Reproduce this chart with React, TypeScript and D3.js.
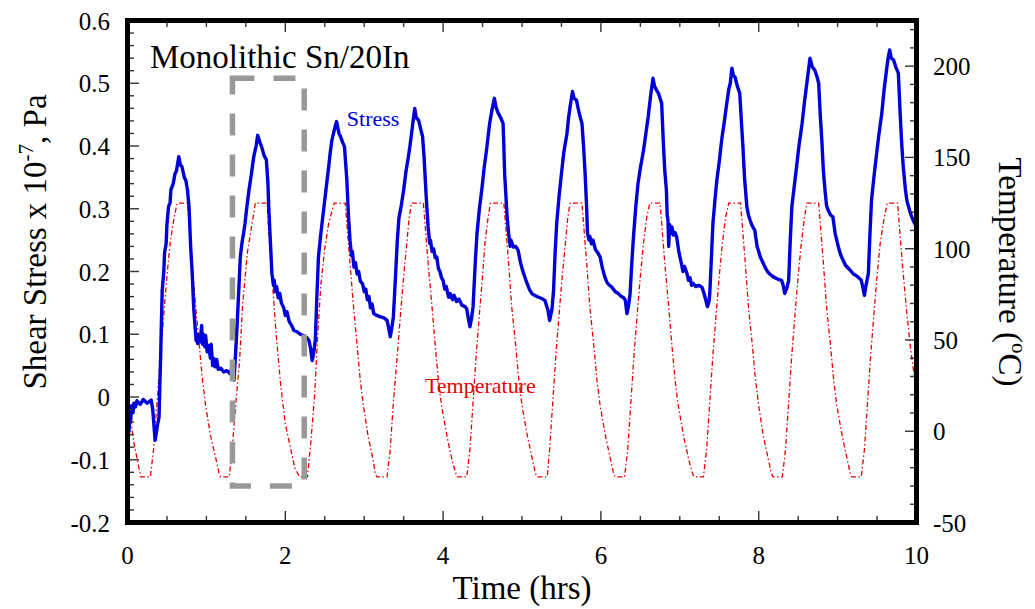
import { useRef, useEffect } from "react";
import * as d3 from "d3";

// tick labels
const stressTicks = [-0.2, -0.1, 0, 0.1, 0.2, 0.3, 0.4, 0.5, 0.6];
const stressTickLabels = ["-0.2", "-0.1", "0", "0.1", "0.2", "0.3", "0.4", "0.5", "0.6"];
const tempTicks = [-50, 0, 50, 100, 150, 200];
const tempTickLabels = ["-50", "0", "50", "100", "150", "200"];
const timeTicks = [0, 2, 4, 6, 8, 10];
const timeTickLabels = ["0", "2", "4", "6", "8", "10"];

const stressData: [number, number][] = [
  [0.0, -0.042], [0.01, -0.07], [0.015, -0.03], [0.02, -0.055], [0.03, -0.02], [0.04, -0.04],
  [0.05, -0.014], [0.07, -0.025], [0.08, -0.01], [0.1, -0.016], [0.12, -0.006], [0.16, -0.012],
  [0.2, -0.004], [0.25, -0.01], [0.3, -0.005], [0.32, -0.02], [0.35, -0.069], [0.38, -0.045],
  [0.4, -0.032], [0.41, 0.02], [0.42, 0.064], [0.43, 0.12], [0.44, 0.17], [0.46, 0.2],
  [0.47, 0.23], [0.49, 0.245], [0.5, 0.275], [0.52, 0.303], [0.54, 0.31], [0.55, 0.33],
  [0.58, 0.34], [0.6, 0.355], [0.62, 0.36], [0.65, 0.383], [0.67, 0.37], [0.69, 0.367],
  [0.72, 0.35], [0.74, 0.345], [0.76, 0.33], [0.78, 0.303], [0.8, 0.24], [0.82, 0.197],
  [0.84, 0.14], [0.86, 0.106], [0.87, 0.09], [0.88, 0.1], [0.89, 0.085], [0.9, 0.098],
  [0.92, 0.088], [0.94, 0.114], [0.95, 0.084], [0.96, 0.1], [0.98, 0.08], [0.99, 0.098],
  [1.01, 0.072], [1.03, 0.082], [1.05, 0.062], [1.06, 0.084], [1.08, 0.05], [1.09, 0.062],
  [1.11, 0.048], [1.13, 0.06], [1.15, 0.044], [1.18, 0.046], [1.22, 0.04], [1.26, 0.042],
  [1.3, 0.037], [1.32, 0.045], [1.34, 0.04], [1.35, 0.027],
  [1.37, 0.07], [1.39, 0.117], [1.41, 0.17], [1.43, 0.223], [1.45, 0.245], [1.47, 0.26],
  [1.49, 0.277], [1.51, 0.3], [1.54, 0.33], [1.57, 0.355], [1.6, 0.383], [1.63, 0.4],
  [1.65, 0.417], [1.68, 0.405], [1.7, 0.399], [1.73, 0.385], [1.76, 0.378], [1.78, 0.34],
  [1.79, 0.303], [1.81, 0.25], [1.83, 0.197], [1.85, 0.178], [1.86, 0.186], [1.87, 0.168],
  [1.89, 0.176], [1.91, 0.158], [1.93, 0.165], [1.95, 0.15], [1.98, 0.142], [2.0, 0.13],
  [2.02, 0.136], [2.05, 0.12], [2.08, 0.114], [2.11, 0.106], [2.15, 0.104], [2.19, 0.1],
  [2.23, 0.098], [2.27, 0.095], [2.3, 0.09], [2.32, 0.078], [2.34, 0.058],
  [2.36, 0.07], [2.38, 0.09], [2.4, 0.16], [2.42, 0.223], [2.45, 0.26], [2.49, 0.303],
  [2.52, 0.335], [2.55, 0.367], [2.57, 0.39], [2.59, 0.409], [2.62, 0.425], [2.65, 0.439],
  [2.68, 0.42], [2.7, 0.415], [2.73, 0.405], [2.75, 0.399], [2.78, 0.346], [2.8, 0.29],
  [2.82, 0.25], [2.84, 0.225], [2.85, 0.232], [2.87, 0.207], [2.89, 0.214], [2.91, 0.196],
  [2.93, 0.2], [2.95, 0.185], [2.98, 0.18], [3.0, 0.168], [3.02, 0.172], [3.04, 0.155],
  [3.06, 0.16], [3.08, 0.142], [3.1, 0.148], [3.12, 0.133], [3.16, 0.13], [3.2, 0.128],
  [3.25, 0.126], [3.29, 0.122], [3.31, 0.11], [3.33, 0.096],
  [3.35, 0.11], [3.37, 0.128], [3.4, 0.2], [3.42, 0.25], [3.44, 0.285], [3.47, 0.305],
  [3.5, 0.33], [3.53, 0.36], [3.56, 0.383], [3.58, 0.4], [3.6, 0.42], [3.62, 0.44],
  [3.64, 0.46], [3.66, 0.445], [3.69, 0.441], [3.72, 0.425], [3.74, 0.415], [3.76, 0.38],
  [3.77, 0.356], [3.79, 0.31], [3.81, 0.271], [3.83, 0.245], [3.84, 0.25], [3.86, 0.232],
  [3.88, 0.236], [3.9, 0.222], [3.92, 0.223], [3.94, 0.205], [3.96, 0.2], [3.98, 0.19],
  [4.0, 0.186], [4.02, 0.172], [4.04, 0.176], [4.07, 0.159], [4.09, 0.165], [4.12, 0.155],
  [4.14, 0.162], [4.17, 0.152], [4.2, 0.156], [4.24, 0.146], [4.28, 0.144], [4.3, 0.14],
  [4.32, 0.125], [4.34, 0.112],
  [4.36, 0.125], [4.38, 0.144], [4.41, 0.22], [4.43, 0.261], [4.46, 0.3], [4.49, 0.33],
  [4.52, 0.365], [4.55, 0.393], [4.57, 0.415], [4.59, 0.436], [4.62, 0.458], [4.65, 0.476],
  [4.67, 0.462], [4.7, 0.452], [4.73, 0.445], [4.76, 0.436], [4.77, 0.4], [4.78, 0.356],
  [4.81, 0.29], [4.83, 0.261], [4.85, 0.24], [4.86, 0.25], [4.89, 0.239], [4.92, 0.24],
  [4.95, 0.234], [4.98, 0.215], [5.0, 0.205], [5.02, 0.197], [5.05, 0.186], [5.08, 0.176],
  [5.1, 0.17], [5.13, 0.164], [5.16, 0.162], [5.21, 0.159], [5.25, 0.157], [5.29, 0.154],
  [5.31, 0.146], [5.33, 0.138], [5.35, 0.122],
  [5.38, 0.14], [5.4, 0.17], [5.42, 0.23], [5.44, 0.277], [5.47, 0.32], [5.5, 0.356],
  [5.53, 0.39], [5.57, 0.42], [5.59, 0.445], [5.61, 0.463], [5.64, 0.487], [5.66, 0.476],
  [5.69, 0.473], [5.72, 0.455], [5.74, 0.445], [5.76, 0.436], [5.78, 0.4], [5.8, 0.356],
  [5.82, 0.3], [5.83, 0.261], [5.85, 0.25], [5.86, 0.256], [5.88, 0.244], [5.9, 0.25],
  [5.93, 0.235], [5.96, 0.23], [5.99, 0.223], [6.02, 0.205], [6.05, 0.191], [6.08, 0.182],
  [6.11, 0.178], [6.14, 0.175], [6.18, 0.168], [6.22, 0.165], [6.26, 0.16], [6.29, 0.158],
  [6.31, 0.154], [6.33, 0.133],
  [6.35, 0.145], [6.37, 0.165], [6.39, 0.21], [6.41, 0.25], [6.44, 0.3], [6.47, 0.34],
  [6.5, 0.365], [6.54, 0.393], [6.57, 0.42], [6.6, 0.447], [6.63, 0.48], [6.66, 0.508],
  [6.68, 0.495], [6.71, 0.488], [6.73, 0.484], [6.76, 0.472], [6.77, 0.468], [6.79, 0.409],
  [6.81, 0.36], [6.83, 0.33], [6.84, 0.29], [6.85, 0.282], [6.86, 0.24], [6.87, 0.275],
  [6.88, 0.26], [6.9, 0.271], [6.92, 0.258], [6.94, 0.262], [6.96, 0.255], [6.99, 0.23],
  [7.02, 0.213], [7.04, 0.2], [7.06, 0.208], [7.09, 0.197], [7.11, 0.186], [7.13, 0.19],
  [7.15, 0.178], [7.17, 0.181], [7.2, 0.176], [7.24, 0.178], [7.28, 0.175], [7.3, 0.168],
  [7.32, 0.159], [7.35, 0.144],
  [7.37, 0.152], [7.38, 0.165], [7.4, 0.22], [7.42, 0.277], [7.45, 0.32], [7.47, 0.346],
  [7.5, 0.375], [7.53, 0.409], [7.56, 0.435], [7.59, 0.463], [7.62, 0.49], [7.64, 0.5],
  [7.66, 0.524], [7.68, 0.512], [7.7, 0.51], [7.73, 0.495], [7.76, 0.484], [7.78, 0.44],
  [7.8, 0.399], [7.82, 0.35], [7.85, 0.303], [7.87, 0.29], [7.89, 0.282], [7.91, 0.275],
  [7.93, 0.27], [7.95, 0.266], [7.98, 0.24], [8.0, 0.232], [8.02, 0.223], [8.05, 0.215],
  [8.08, 0.207], [8.11, 0.2], [8.14, 0.196], [8.19, 0.191], [8.24, 0.188], [8.29, 0.186],
  [8.31, 0.178], [8.33, 0.165],
  [8.36, 0.175], [8.38, 0.186], [8.4, 0.25], [8.42, 0.303], [8.45, 0.335], [8.48, 0.367],
  [8.51, 0.4], [8.55, 0.436], [8.58, 0.47], [8.61, 0.5], [8.63, 0.52], [8.65, 0.54],
  [8.68, 0.526], [8.71, 0.521], [8.74, 0.51], [8.76, 0.5], [8.78, 0.45], [8.8, 0.409],
  [8.82, 0.36], [8.84, 0.33], [8.86, 0.305], [8.88, 0.298], [8.91, 0.29], [8.94, 0.287],
  [8.97, 0.26], [9.01, 0.239], [9.04, 0.226], [9.07, 0.218], [9.1, 0.21], [9.13, 0.206],
  [9.16, 0.202], [9.2, 0.196], [9.23, 0.194], [9.26, 0.191], [9.3, 0.186], [9.32, 0.175],
  [9.34, 0.162],
  [9.36, 0.178], [9.39, 0.197], [9.41, 0.26], [9.43, 0.314], [9.46, 0.35], [9.49, 0.383],
  [9.52, 0.415], [9.56, 0.452], [9.59, 0.49], [9.62, 0.521], [9.64, 0.54], [9.66, 0.553],
  [9.68, 0.54], [9.71, 0.537], [9.74, 0.525], [9.77, 0.516], [9.79, 0.46], [9.81, 0.409],
  [9.83, 0.37], [9.86, 0.33], [9.88, 0.312], [9.9, 0.303], [9.92, 0.294], [9.94, 0.287],
  [9.97, 0.278], [10.0, 0.271],
];

// temperature (C) against time (hrs)
const temperatureData: [number, number][] = [
  [0.0, 19], [0.04, 6], [0.08, -6], [0.13, -17], [0.17, -25], [0.29, -25],
  [0.33, -10], [0.375, 16], [0.42, 42], [0.46, 64], [0.5, 85], [0.54, 103], [0.59, 117], [0.63, 125], [0.76, 125],
  [0.78, 114], [0.82, 92], [0.865, 68], [0.91, 47], [0.95, 28], [0.99, 14], [1.055, -3], [1.12, -15], [1.16, -23],
  [1.18, -25], [1.29, -25],
  [1.33, -8], [1.37, 14], [1.42, 38], [1.46, 70], [1.52, 98], [1.58, 114], [1.62, 125], [1.77, 125],
  [1.79, 110], [1.83, 86], [1.88, 55], [1.94, 26], [2.0, 4], [2.07, -10], [2.12, -20],
  [2.18, -25], [2.28, -25],
  [2.32, -8], [2.37, 19], [2.41, 52], [2.45, 80], [2.5, 100], [2.55, 114], [2.62, 125], [2.76, 125],
  [2.78, 114], [2.82, 92], [2.865, 68], [2.91, 47], [2.95, 28], [2.99, 14], [3.05, -3], [3.11, -15], [3.14, -23],
  [3.16, -25], [3.29, -25],
  [3.33, -10], [3.37, 16], [3.42, 42], [3.46, 64], [3.5, 85], [3.54, 103], [3.57, 117], [3.6, 125], [3.75, 125],
  [3.77, 114], [3.81, 92], [3.86, 68], [3.9, 47], [3.94, 28], [3.98, 14], [4.05, -3], [4.11, -15], [4.16, -23],
  [4.18, -25], [4.3, -25],
  [4.34, -10], [4.38, 16], [4.42, 42], [4.46, 64], [4.5, 85], [4.53, 103], [4.57, 117], [4.6, 125], [4.77, 125],
  [4.79, 114], [4.83, 92], [4.87, 68], [4.92, 47], [4.96, 28], [5.0, 14], [5.07, -3], [5.13, -15], [5.17, -23],
  [5.19, -25], [5.32, -25],
  [5.35, -10], [5.39, 16], [5.43, 42], [5.47, 64], [5.51, 85], [5.55, 103], [5.58, 117], [5.61, 125], [5.76, 125],
  [5.78, 114], [5.82, 92], [5.86, 68], [5.91, 47], [5.95, 28], [5.99, 14], [6.06, -3], [6.12, -15], [6.16, -23],
  [6.18, -25], [6.3, -25],
  [6.34, -10], [6.38, 16], [6.42, 42], [6.46, 64], [6.5, 85], [6.54, 103], [6.58, 117], [6.62, 125], [6.75, 125],
  [6.77, 114], [6.81, 92], [6.86, 68], [6.9, 47], [6.94, 28], [6.98, 14], [7.05, -3], [7.11, -15], [7.16, -23],
  [7.18, -25], [7.3, -25],
  [7.34, -10], [7.38, 16], [7.42, 42], [7.46, 64], [7.5, 85], [7.54, 103], [7.58, 117], [7.62, 125], [7.77, 125],
  [7.79, 114], [7.83, 92], [7.87, 68], [7.92, 47], [7.96, 28], [8.0, 14], [8.06, -3], [8.12, -15], [8.16, -23],
  [8.18, -25], [8.3, -25],
  [8.34, -10], [8.38, 16], [8.42, 42], [8.46, 64], [8.5, 85], [8.54, 103], [8.58, 117], [8.61, 125], [8.76, 125],
  [8.78, 114], [8.82, 92], [8.86, 68], [8.91, 47], [8.95, 28], [8.99, 14], [9.06, -3], [9.12, -15], [9.16, -23],
  [9.18, -25], [9.3, -25],
  [9.34, -10], [9.38, 16], [9.42, 42], [9.46, 64], [9.5, 85], [9.54, 103], [9.59, 117], [9.63, 125], [9.76, 125],
  [9.78, 114], [9.82, 92], [9.87, 68], [9.92, 47], [9.96, 34], [10.0, 24],
];

// dashed highlight box, in data units (time, stress)
const boxTime = [1.33, 2.24];
const boxStress = [-0.142, 0.508];

export default function App() {
  const ref = useRef<SVGSVGElement>(null);

  useEffect(() => {
    const width = 1035;
    const height = 609;
    const left = 127.5, right = 916.5, top = 20.5, bottom = 522.5;
    const font = "'Liberation Serif', 'Times New Roman', Times, serif";

    const svg = d3.select(ref.current);
    svg.selectAll("*").remove();
    svg.attr("width", width).attr("height", height);

    const x = d3.scaleLinear().domain([0, 10]).range([left, right]);
    const yS = d3.scaleLinear().domain([-0.2, 0.6]).range([bottom, top]);
    const yT = d3.scaleLinear().domain([-50, 225]).range([bottom, top]);

    // temperature (dash-dot red)
    const tempLine = d3
      .line<[number, number]>()
      .x((d) => x(d[0]))
      .y((d) => yT(d[1]));
    svg
      .append("path")
      .datum(temperatureData)
      .attr("d", tempLine)
      .attr("fill", "none")
      .attr("stroke", "#e80000")
      .attr("stroke-width", 1.3)
      .attr("stroke-dasharray", "5,2.5,1.5,2.5");

    // stress (thick blue)
    const stressLine = d3
      .line<[number, number]>()
      .x((d) => x(d[0]))
      .y((d) => yS(d[1]));
    svg
      .append("path")
      .datum(stressData)
      .attr("d", stressLine)
      .attr("fill", "none")
      .attr("stroke", "#0000d8")
      .attr("stroke-width", 3.4)
      .attr("stroke-linejoin", "round");

    // highlight box
    svg
      .append("rect")
      .attr("x", x(boxTime[0]))
      .attr("y", yS(boxStress[1]))
      .attr("width", x(boxTime[1]) - x(boxTime[0]))
      .attr("height", yS(boxStress[0]) - yS(boxStress[1]))
      .attr("fill", "none")
      .attr("stroke", "#999")
      .attr("stroke-width", 5.5)
      .attr("stroke-dasharray", "22,19");

    // ticks, all pointing inward
    const ticks = svg.append("g").attr("stroke", "#333").attr("stroke-width", 1.4);
    const major = 11.5, minor = 6.5;
    yS.ticks(40).forEach((v) => {
      const isMajor = stressTicks.some((m) => Math.abs(m - v) < 1e-6);
      ticks.append("line").attr("x1", left).attr("x2", left + (isMajor ? major : minor))
        .attr("y1", yS(v)).attr("y2", yS(v));
    });
    yT.ticks(28).forEach((v) => {
      const isMajor = tempTicks.includes(v);
      ticks.append("line").attr("x1", right).attr("x2", right - (isMajor ? major : minor))
        .attr("y1", yT(v)).attr("y2", yT(v));
    });
    x.ticks(20).forEach((v) => {
      const isMajor = timeTicks.includes(v);
      const len = isMajor ? major : minor;
      ticks.append("line").attr("x1", x(v)).attr("x2", x(v)).attr("y1", top).attr("y2", top + len);
      ticks.append("line").attr("x1", x(v)).attr("x2", x(v)).attr("y1", bottom).attr("y2", bottom - len);
    });

    // frame
    svg
      .append("rect")
      .attr("x", left)
      .attr("y", top)
      .attr("width", right - left)
      .attr("height", bottom - top)
      .attr("fill", "none")
      .attr("stroke", "#000")
      .attr("stroke-width", 5);

    // tick labels
    const labels = svg.append("g").attr("font-family", font).attr("font-size", 25).attr("fill", "#000");
    stressTicks.forEach((v, i) => {
      labels.append("text").attr("x", 110).attr("y", yS(v)).attr("dy", "0.36em")
        .attr("text-anchor", "end").text(stressTickLabels[i]);
    });
    tempTicks.forEach((v, i) => {
      labels.append("text").attr("x", 933).attr("y", yT(v)).attr("dy", "0.36em")
        .attr("text-anchor", "start").text(tempTickLabels[i]);
    });
    timeTicks.forEach((v, i) => {
      labels.append("text").attr("x", x(v)).attr("y", 563.5)
        .attr("text-anchor", "middle").text(timeTickLabels[i]);
    });

    // axis titles
    svg.append("text")
      .attr("x", (left + right) / 2).attr("y", 599)
      .attr("text-anchor", "middle").attr("font-family", font).attr("font-size", 33)
      .text("Time (hrs)");

    const yTitle = svg.append("text")
      .attr("transform", "translate(46,242) rotate(-90)")
      .attr("text-anchor", "middle").attr("font-family", font).attr("font-size", 33);
    yTitle.append("tspan").text("Shear Stress x 10");
    yTitle.append("tspan").attr("font-size", 21).attr("dy", -13).text("-7");
    yTitle.append("tspan").attr("dy", 13).text(", Pa");

    const tTitle = svg.append("text")
      .attr("transform", "translate(999,272) rotate(90)")
      .attr("text-anchor", "middle").attr("font-family", font).attr("font-size", 33);
    tTitle.append("tspan").text("Temperature (");
    tTitle.append("tspan").attr("font-size", 21).attr("dy", -13).text("o");
    tTitle.append("tspan").attr("dy", 13).text("C)");

    // annotations
    svg.append("text")
      .attr("x", x(0.285)).attr("y", yS(0.524))
      .attr("font-family", font).attr("font-size", 33)
      .text("Monolithic Sn/20In");
    svg.append("text")
      .attr("x", x(2.78)).attr("y", yS(0.432))
      .attr("font-family", font).attr("font-size", 22).attr("fill", "#0000d8")
      .text("Stress");
    svg.append("text")
      .attr("x", x(3.77)).attr("y", yT(20.7))
      .attr("font-family", font).attr("font-size", 22).attr("fill", "#e80000")
      .text("Temperature");
  }, []);

  return (
    <svg
      ref={ref}
      style={{ position: "absolute", left: 0, top: 0, display: "block", background: "#fff" }}
    />
  );
}
